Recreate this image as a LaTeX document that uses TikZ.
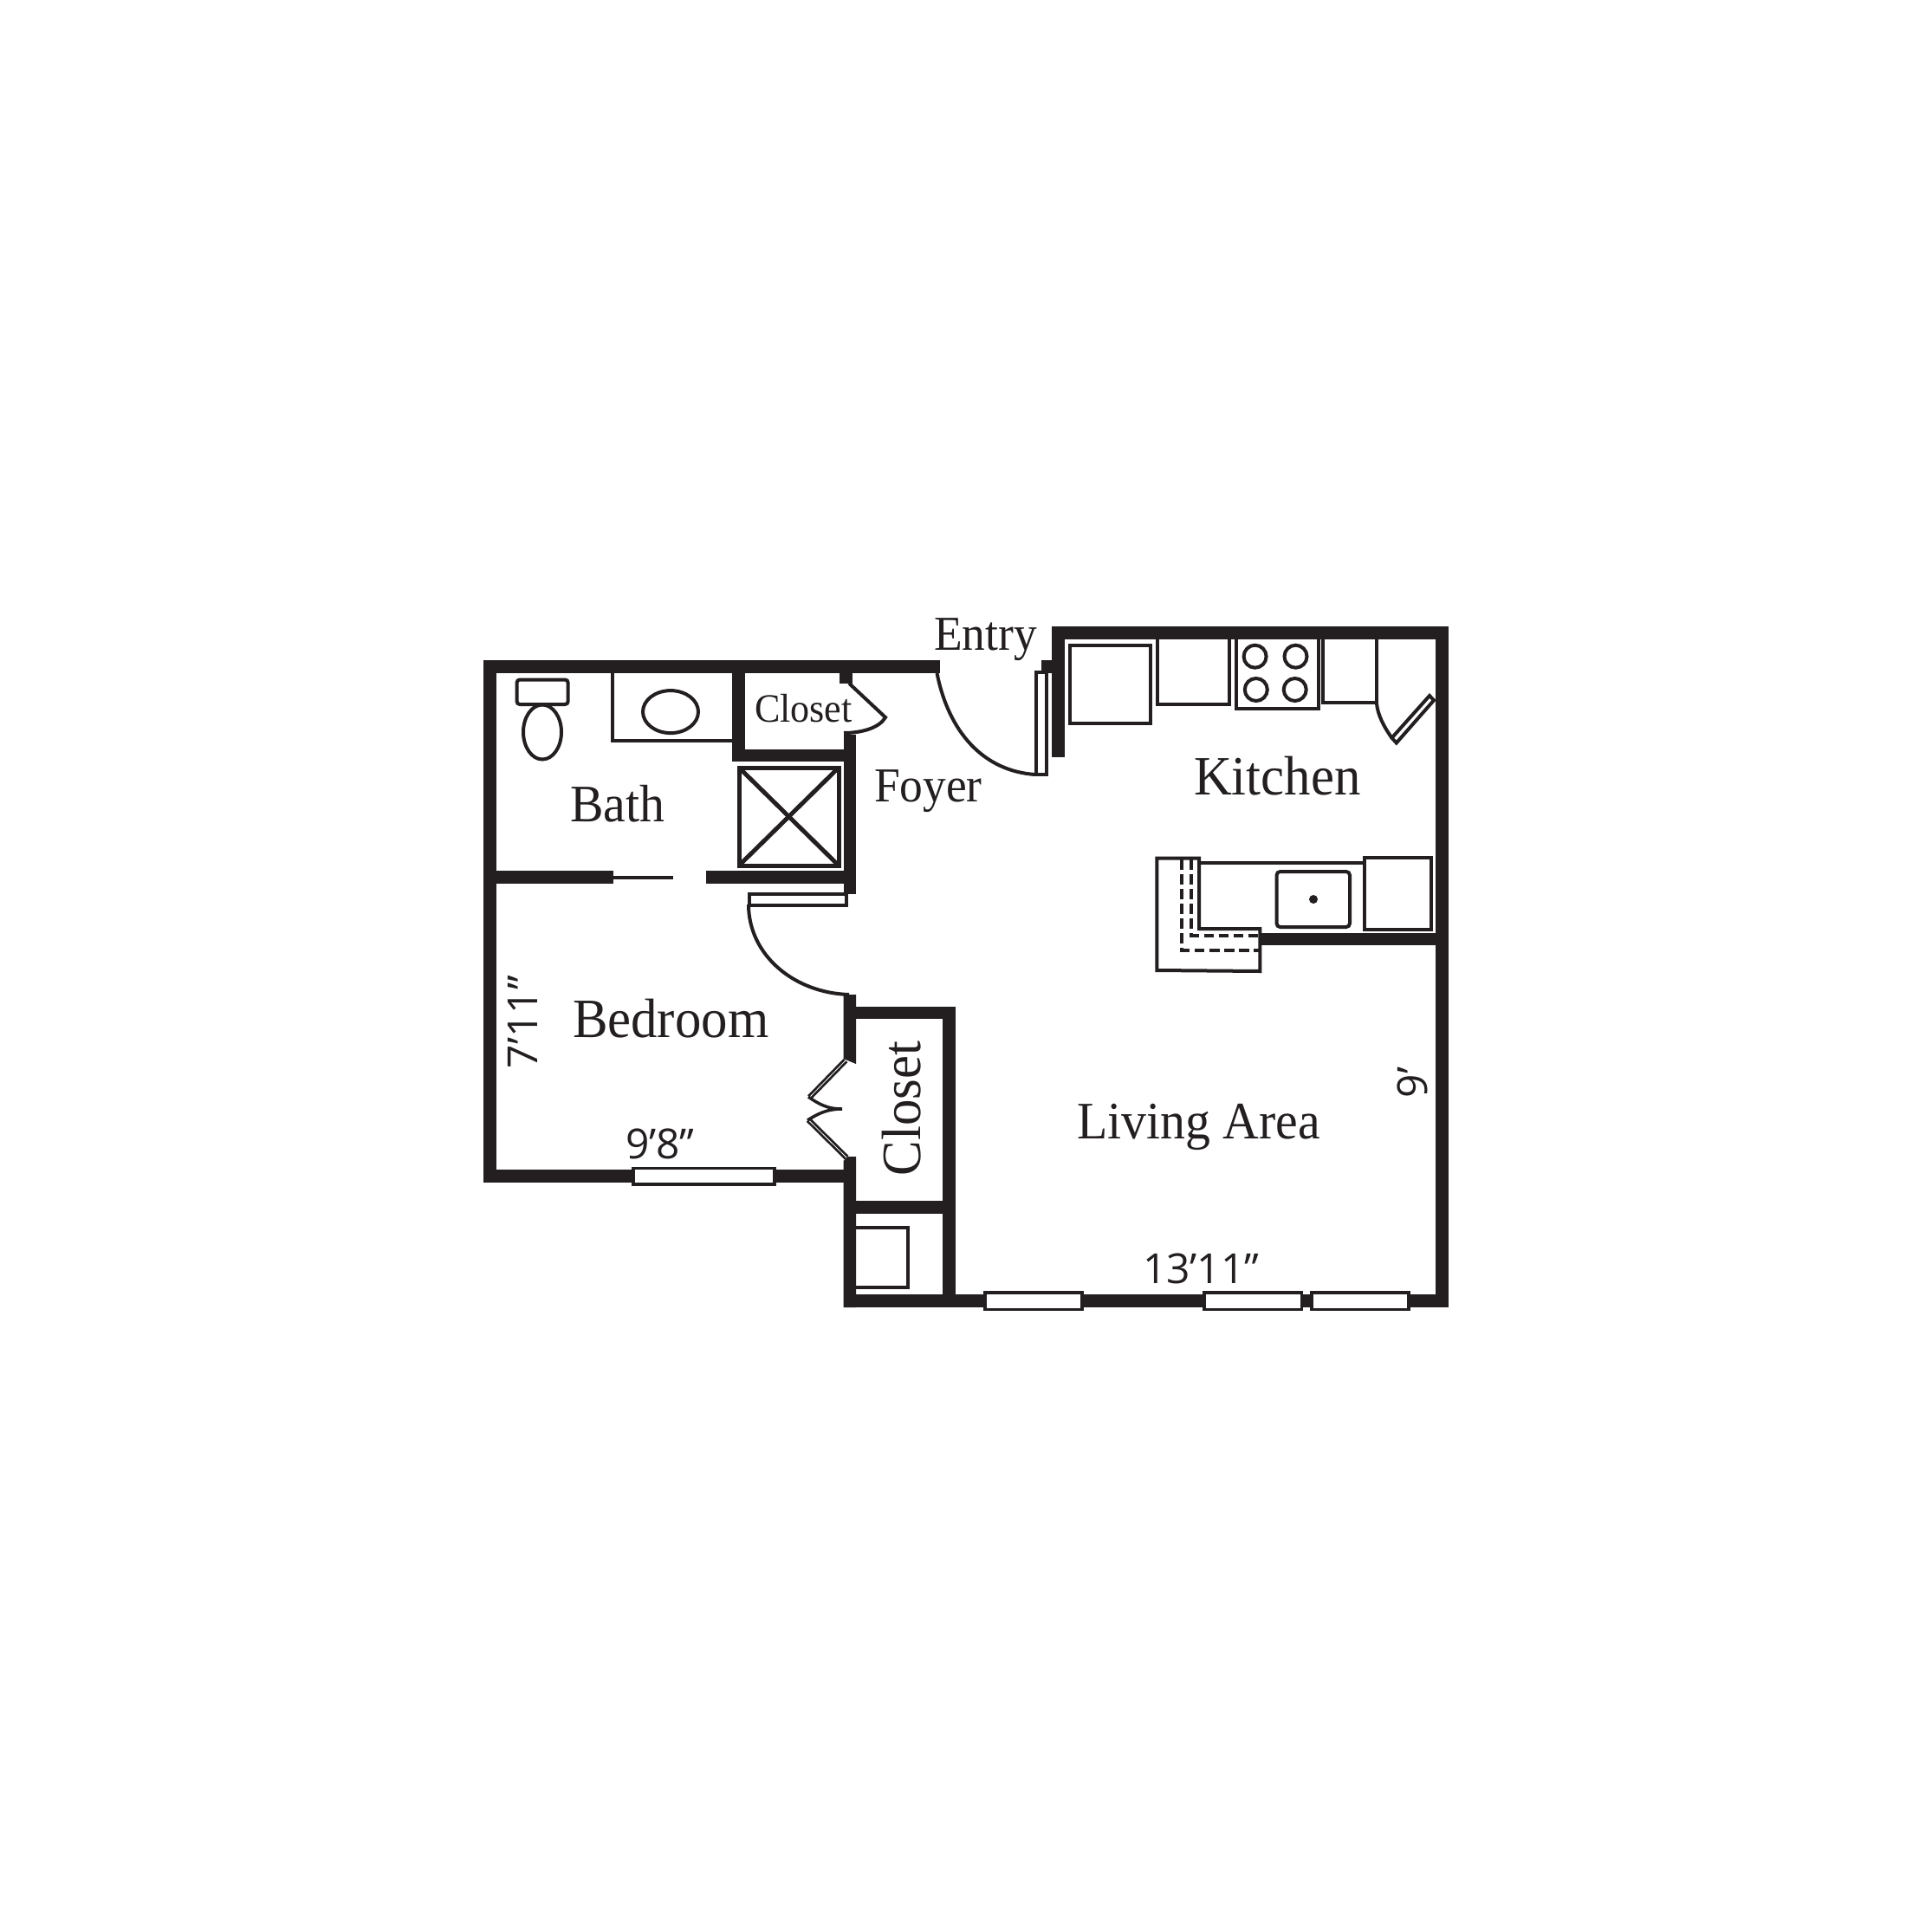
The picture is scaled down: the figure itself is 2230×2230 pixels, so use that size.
\documentclass[tikz,border=0pt]{standalone}
\usepackage{fontspec}
\setmainfont{Liberation Serif}[FakeStretch=0.95]
\setsansfont{Open Sans}
\begin{document}
\begin{tikzpicture}[
  x=0.01cm, y=-0.01cm,
  every node/.style={inner sep=0pt, outer sep=0pt, text=PlanInk},
  wallfill/.style={fill=PlanInk},
  fixture/.style={draw=PlanInk, line width=0.04cm},
  glazing/.style={draw=PlanInk, fill=white, line width=0.036cm},
  swing/.style={draw=PlanInk, line width=0.04cm},
  bifold/.style={draw=PlanInk, line width=0.028cm, double=white, double distance=0.008cm},
  hiddenline/.style={draw=PlanInk, line width=0.042cm, dash pattern=on 0.115cm off 0.055cm},
  roomlabel/.style={anchor=base west, font={\fontsize{17.3}{20}\selectfont}},
  widelabel/.style={anchor=base west, font={\fontsize{18.2}{21}\selectfont}},
  foyerlabel/.style={anchor=base west, font={\fontsize{16}{19}\selectfont}},
  dimlabel/.style={anchor=base west, font={\fontsize{13.6}{16}\selectfont\sffamily}},
]

% ── colors ──
\definecolor{PlanInk}{HTML}{231F20}

% ── page ──
\fill[white] (0,0) rectangle (2230,2230);
\useasboundingbox (0,0) rectangle (2230,2230);

% ── outer walls ──
\fill[wallfill] (557.6,762.3) rectangle (1085,777.3);
\fill[wallfill] (557.6,762.3) rectangle (572.5,1364.7);
\fill[wallfill] (557.6,1350) rectangle (973.6,1364.7);
\fill[wallfill] (973.6,1494) rectangle (1672,1509);
\fill[wallfill] (1657,723.3) rectangle (1672,1509);
\fill[wallfill] (1213.9,723.3) rectangle (1672,737.7);
\fill[wallfill] (1213.9,723.3) rectangle (1228.6,873.7);
\fill[wallfill] (1202.4,762.3) rectangle (1214,777.3);

% ── inner walls ──
\fill[wallfill] (845.4,777) rectangle (860,879.3);
\fill[wallfill] (845.4,864.7) rectangle (988,879.3);
\fill[wallfill] (973.6,848.3) rectangle (988,1032.3);
\fill[wallfill] (969.4,777) rectangle (984,788.7);
\fill[wallfill] (572,1005) rectangle (707.6,1020);
\fill[wallfill] (815,1005) rectangle (973.6,1020);
\fill[wallfill] (707.6,1010.7) rectangle (776.5,1014.7);
\fill[wallfill] (973.6,1148) -- (988,1148) -- (988,1228) -- (973.6,1222) -- cycle;
\fill[wallfill] (973.6,1340) -- (978,1335) -- (988,1335) -- (988,1509) -- (973.6,1509) -- cycle;
\fill[wallfill] (988,1161.7) rectangle (1103,1176);
\fill[wallfill] (1088.4,1161.7) rectangle (1103,1509);
\fill[wallfill] (988,1385.7) rectangle (1088.4,1400.7);
\fill[wallfill] (1454,1076.7) rectangle (1657,1091.3);

% ── windows ──
\draw[glazing] (731,1348.5) rectangle (894,1367);
\draw[glazing] (1137,1492) rectangle (1249,1511.5);
\draw[glazing] (1390,1492) rectangle (1502.6,1511.5);
\draw[glazing] (1513.7,1492) rectangle (1626,1511.5);

% ── doors ──
\draw[swing] (864.5,1032) rectangle (976.5,1044.5);
\draw[swing] (864,1044) .. controls (864,1102) and (916,1146) .. (980,1148);
\draw[swing] (1195.5,776) rectangle (1207.5,894);
\draw[swing] (1081.5,777) .. controls (1095,845) and (1135,890) .. (1195,894);
\draw[swing] (980,788.7) -- (1022,828) .. controls (1015,840) and (995,846) .. (974,846);
\draw[swing] (1650,803) -- (1655,808.3) -- (1611.8,857.5) -- (1606.5,851.7) -- cycle;
\draw[swing] (1589,812) .. controls (1590,825) and (1598,840) .. (1606.5,851.7);
\draw[bifold] (976,1224) -- (934.5,1266.5);
\draw[bifold] (933,1292.5) -- (977,1336);
\draw[draw=PlanInk, line width=0.035cm] (933,1266) .. controls (950,1278) and (960,1280) .. (972,1280) .. controls (955,1280) and (945,1285) .. (932,1293);

% ── bath ──
\draw[fixture, rounded corners=1pt] (596.5,784.5) rectangle (655.7,813);
\draw[fixture] (626,845) ellipse (22 and 31.5);
\draw[fixture] (707,777) -- (707,855) -- (845,855);
\draw[fixture] (774,821.6) ellipse (32 and 24.5);
\draw[fixture, line width=0.05cm] (853,886) rectangle (968,999);
\draw[fixture, line width=0.05cm] (853,886) -- (968,999);
\draw[fixture, line width=0.05cm] (853,999) -- (968,886);

% ── closet shelf ──
\draw[fixture] (988,1417) -- (1047.5,1417) -- (1047.5,1486) -- (988,1486);

% ── kitchen ──
\draw[fixture] (1235,745) rectangle (1327.5,835);
\draw[fixture] (1336,737) -- (1336,812.5) -- (1419,812.5) -- (1419,737);
\draw[fixture] (1426.5,737) -- (1426.5,817.5) -- (1521.5,817.5) -- (1521.5,737);
\draw[fixture] (1527,737) -- (1527,810.5) -- (1589,810.5);
\draw[fixture] (1589,737) -- (1589,812);
\draw[fixture] (1448.6,757.7) circle (13);
\draw[fixture] (1495.5,757.7) circle (13);
\draw[fixture] (1449.8,796) circle (13);
\draw[fixture] (1494.7,796) circle (13);

\draw[fixture] (1335.3,990.5) -- (1384,990.5) -- (1384,1072) -- (1454.3,1072) -- (1454.3,1121) -- (1335.3,1120) -- cycle;
\draw[fixture] (1384,996.3) -- (1575,996.3);
\draw[fixture, rounded corners=1.2pt] (1473.5,1006) rectangle (1558,1070);
\fill[PlanInk] (1516,1038) circle (5);
\draw[fixture] (1575,990) rectangle (1651.5,1073);
\draw[hiddenline] (1375.3,992.3) -- (1375.3,1080) -- (1452.7,1080);
\draw[hiddenline] (1364.3,992.3) -- (1364.3,1096.7) -- (1452.7,1096.7);

% ── room labels ──
\node[roomlabel] (bath) at (658,948) {Bath};
\node[widelabel] (bedroom) at (661,1197) {Bedroom};
\node[widelabel] (kitchen) at (1378,917) {Kitchen};
\node[roomlabel] (living) at (1243,1314) {Living Area};
\node[widelabel, rotate=90] (wicloset) at (1062,1357) {Closet};
\node[foyerlabel] (foyer) at (1009,925) {Foyer};
\node[foyerlabel] (entry) at (1078,750) {Entry};
\node[foyerlabel, font={\fontsize{13.2}{16}\selectfont}] (closet) at (871,833) {Closet};

% ── dimensions ──
\node[dimlabel, rotate=90] (bedheight) at (620,1233) {7’11”};
\node[dimlabel] (bedwidth) at (722,1337) {9’8”};
\node[dimlabel] (livwidth) at (1319,1481) {13’11”};
\node[dimlabel, rotate=90] (livheight) at (1647,1267) {9’};

\end{tikzpicture}
\end{document}
